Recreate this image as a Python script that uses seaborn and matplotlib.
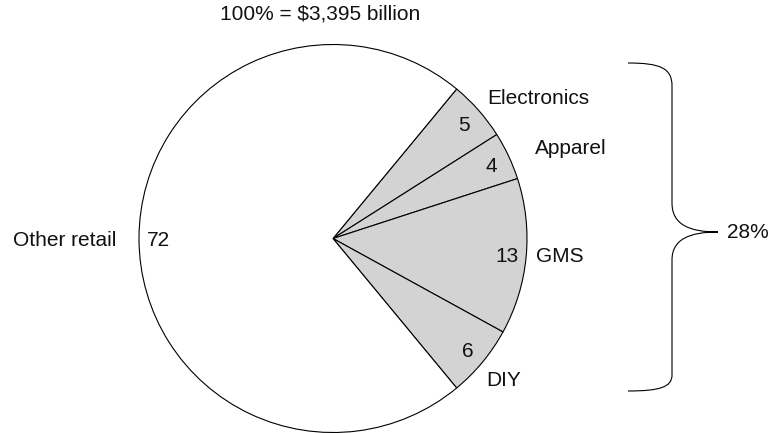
import numpy as np
import matplotlib
matplotlib.use("Agg")
import matplotlib.pyplot as plt
from matplotlib.path import Path
from matplotlib.patches import PathPatch
import seaborn as sns

# Retail sales split, percent of $3,395 billion
categories = ["Electronics", "Apparel", "GMS", "DIY", "Other retail"]
shares = [5, 4, 13, 6, 72]
total_label = "100% = $3,395 billion"
group_label = "28%"

sns.set_theme(style="white")
plt.rcParams["font.family"] = ["Liberation Sans", "DejaVu Sans"]

W, H = 770, 433
FS = 15
INK = "#111111"
fig = plt.figure(figsize=(W / 100, H / 100), dpi=100)
ax = fig.add_axes([0, 0, 1, 1])


def py(y):
    # canvas rows measured from the top
    return H - y


cx, cy, R = 333, py(238.5), 194
grey = "#d3d3d3"
colors = [grey, grey, grey, grey, "white"]

wedges, _, autotexts = ax.pie(
    shares, colors=colors, startangle=50.4, counterclock=False,
    center=(cx, cy), radius=R, autopct=lambda p: f"{p:.0f}",
    pctdistance=0.9, frame=True,
    wedgeprops=dict(edgecolor="black", linewidth=0.8),
    textprops=dict(fontsize=FS, color=INK),
)
for t in autotexts:
    t.set_verticalalignment("center_baseline")
ax.set_xlim(0, W)
ax.set_ylim(0, H)
ax.set_aspect("equal")
ax.axis("off")

# category names beside their segments
name_pos = [(487, 99, "left"), (535, 148, "left"), (536, 256, "left"),
            (486, 381, "left"), (116, 240, "right")]
for name, (x, y, ha) in zip(categories, name_pos):
    ax.text(x, py(y), name, ha=ha, va="center", fontsize=FS, color=INK)

ax.text(320, py(14), total_label, ha="center", va="center", fontsize=FS,
        color=INK)

# curly brace grouping the shaded segments
verts = [
    (628, py(63)), (660, py(63)), (672, py(68)), (672, py(86)),
    (672, py(203)),
    (672, py(225)), (690, py(232)), (718, py(232)),
    (690, py(232)), (672, py(239)), (672, py(260)),
    (672, py(375)),
    (672, py(387)), (660, py(391)), (628, py(391)),
]
codes = [Path.MOVETO, Path.CURVE4, Path.CURVE4, Path.CURVE4,
         Path.LINETO,
         Path.CURVE4, Path.CURVE4, Path.CURVE4,
         Path.CURVE4, Path.CURVE4, Path.CURVE4,
         Path.LINETO,
         Path.CURVE4, Path.CURVE4, Path.CURVE4]
ax.add_patch(PathPatch(Path(verts, codes), facecolor="none",
                       edgecolor="black", linewidth=0.8))
ax.text(727, py(233), group_label, ha="left", va="center", fontsize=FS,
        color=INK)

fig.savefig("out.png", dpi=100, facecolor="white")
